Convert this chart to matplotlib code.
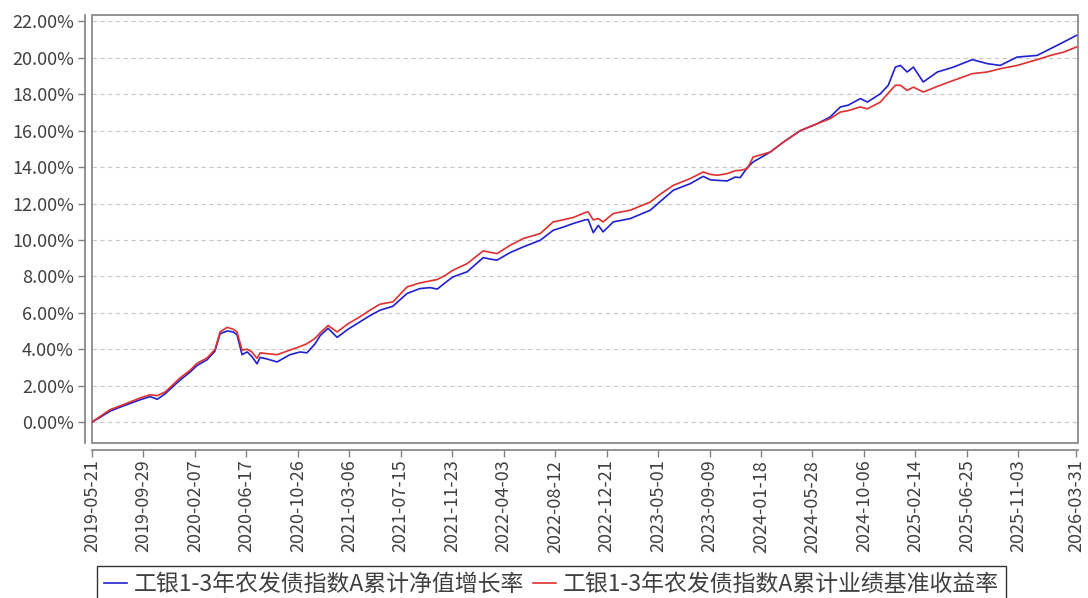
import pandas as pd
import matplotlib
matplotlib.use("Agg")
import matplotlib.pyplot as plt
from matplotlib.patches import Rectangle

plt.rcParams['font.family'] = ['Noto Sans CJK SC', 'DejaVu Sans']

# ---------- data ----------
dates = [
    "2019-05-21", "2019-06-10", "2019-07-06", "2019-08-08", "2019-09-20", "2019-10-16",
    "2019-11-03", "2019-11-23", "2019-12-13", "2019-12-31", "2020-01-26", "2020-02-12",
    "2020-03-09", "2020-03-29", "2020-04-11", "2020-04-29", "2020-05-14", "2020-05-24",
    "2020-06-06", "2020-06-19", "2020-07-01", "2020-07-14", "2020-07-22", "2020-08-11",
    "2020-09-03", "2020-10-06", "2020-11-01", "2020-11-18", "2020-12-09", "2020-12-22",
    "2021-01-11", "2021-02-03", "2021-03-03", "2021-04-02", "2021-04-28", "2021-05-23",
    "2021-06-25", "2021-07-31", "2021-09-02", "2021-09-28", "2021-10-16", "2021-11-05",
    "2021-11-25", "2021-12-31", "2022-02-10", "2022-02-27", "2022-03-17", "2022-04-19",
    "2022-05-23", "2022-07-05", "2022-08-07", "2022-09-01", "2022-09-27", "2022-10-27",
    "2022-11-04", "2022-11-17", "2022-11-30", "2022-12-12", "2023-01-07", "2023-02-19",
    "2023-04-11", "2023-05-06", "2023-06-09", "2023-07-22", "2023-08-24", "2023-09-11",
    "2023-09-29", "2023-10-24", "2023-11-13", "2023-11-26", "2023-12-14", "2023-12-29",
    "2024-02-11", "2024-03-15", "2024-04-27", "2024-06-09", "2024-07-12", "2024-08-07",
    "2024-08-27", "2024-09-27", "2024-10-15", "2024-11-17", "2024-12-07", "2024-12-25",
    "2025-01-07", "2025-01-24", "2025-02-09", "2025-03-06", "2025-04-11", "2025-05-22",
    "2025-07-09", "2025-08-16", "2025-09-18", "2025-10-31", "2025-12-21", "2026-01-24",
    "2026-02-26", "2026-03-31",
]

nav_growth = [
    0.00, 0.25, 0.60, 0.88, 1.22, 1.40,
    1.25, 1.55, 1.95, 2.30, 2.75, 3.10,
    3.42, 3.90, 4.85, 5.00, 4.95, 4.80,
    3.70, 3.85, 3.60, 3.20, 3.55, 3.45,
    3.30, 3.70, 3.85, 3.80, 4.30, 4.75,
    5.15, 4.65, 5.10, 5.50, 5.85, 6.14,
    6.36, 7.06, 7.33, 7.38, 7.30, 7.65,
    7.97, 8.25, 9.03, 8.95, 8.89, 9.30,
    9.62, 9.98, 10.53, 10.70, 10.90, 11.10,
    11.12, 10.40, 10.80, 10.44, 10.99, 11.17,
    11.63, 12.10, 12.73, 13.09, 13.49, 13.30,
    13.27, 13.24, 13.45, 13.42, 13.97, 14.28,
    14.83, 15.37, 16.00, 16.38, 16.75, 17.30,
    17.40, 17.76, 17.57, 18.03, 18.49, 19.49,
    19.58, 19.22, 19.49, 18.67, 19.22, 19.49,
    19.90, 19.68, 19.58, 20.04, 20.13, 20.50,
    20.86, 21.23,
]

benchmark = [
    0.00, 0.30, 0.68, 0.95, 1.32, 1.50,
    1.45, 1.65, 2.05, 2.42, 2.85, 3.22,
    3.52, 3.98, 4.95, 5.20, 5.10, 4.95,
    3.95, 4.00, 3.85, 3.50, 3.80, 3.75,
    3.70, 3.95, 4.15, 4.30, 4.60, 4.90,
    5.30, 4.95, 5.40, 5.78, 6.15, 6.47,
    6.60, 7.42, 7.64, 7.75, 7.83, 8.05,
    8.34, 8.70, 9.40, 9.32, 9.25, 9.70,
    10.08, 10.35, 10.99, 11.10, 11.23, 11.50,
    11.54, 11.10, 11.17, 10.99, 11.45, 11.63,
    12.08, 12.50, 13.00, 13.37, 13.73, 13.60,
    13.55, 13.64, 13.80, 13.82, 13.91, 14.55,
    14.83, 15.37, 16.00, 16.38, 16.66, 17.02,
    17.10, 17.30, 17.20, 17.57, 18.06, 18.49,
    18.49, 18.21, 18.39, 18.12, 18.43, 18.76,
    19.13, 19.22, 19.40, 19.58, 19.90, 20.13,
    20.31, 20.59,
]

tick_labels = [
    "2019-05-21", "2019-09-29", "2020-02-07", "2020-06-17", "2020-10-26",
    "2021-03-06", "2021-07-15", "2021-11-23", "2022-04-03", "2022-08-12",
    "2022-12-21", "2023-05-01", "2023-09-09", "2024-01-18", "2024-05-28",
    "2024-10-06", "2025-02-14", "2025-06-25", "2025-11-03", "2026-03-31",
]
y_ticks = [0, 2, 4, 6, 8, 10, 12, 14, 16, 18, 20, 22]

name_nav = "工银1-3年农发债指数A累计净值增长率"
name_bench = "工银1-3年农发债指数A累计业绩基准收益率"

# ---------- plot ----------
x = pd.to_datetime(dates)
xt = pd.to_datetime(tick_labels)

fig = plt.figure(figsize=(10.88, 5.98), dpi=100)
ax = fig.add_axes([92 / 1088, 1 - 443 / 598, 986 / 1088, 428 / 598])

ax.plot(x, nav_growth, color="#2020d0", lw=1.2, label=name_nav)
ax.plot(x, benchmark, color="#e03030", lw=1.2, label=name_bench)

ax.set_xlim(xt[0], xt[-1] + pd.Timedelta(days=4))
ax.set_ylim(-1.15, 22.35)

ax.set_yticks(y_ticks)
ax.set_yticklabels([f"{v:.2f}%" for v in y_ticks])
ax.set_xticks(xt)
ax.set_xticklabels(tick_labels)

ax.grid(axis="y", color="#c8c8c8", linestyle=(0, (4, 3)), lw=0.8)
ax.set_axisbelow(True)

for s in ["top", "right"]:
    ax.spines[s].set_visible(False)
for s in ["left", "bottom"]:
    ax.spines[s].set_position(("outward", 5))
    ax.spines[s].set_color("#808080")
    ax.spines[s].set_linewidth(1.2)
ax.add_patch(Rectangle((0, 0), 1, 1, transform=ax.transAxes, fill=False,
                       edgecolor="#808080", lw=1.2, clip_on=False))

ax.tick_params(axis="both", colors="#808080", length=5, width=1, labelcolor="#404040",
               labelsize=13)
ax.tick_params(axis="x", pad=2, labelrotation=90)
ax.tick_params(axis="y", pad=3)

leg = fig.legend(loc="upper left", bbox_to_anchor=(97 / 1088, 1 - 566 / 598), ncol=2,
                 fontsize=16.5, frameon=True, fancybox=False, handlelength=1.0,
                 handletextpad=0.3, columnspacing=0.4, borderpad=0.3, borderaxespad=0)
leg.get_frame().set_edgecolor("black")
leg.get_frame().set_linewidth(1)
for t in leg.get_texts():
    t.set_color("#404040")

fig.savefig("out.png", dpi=100)
